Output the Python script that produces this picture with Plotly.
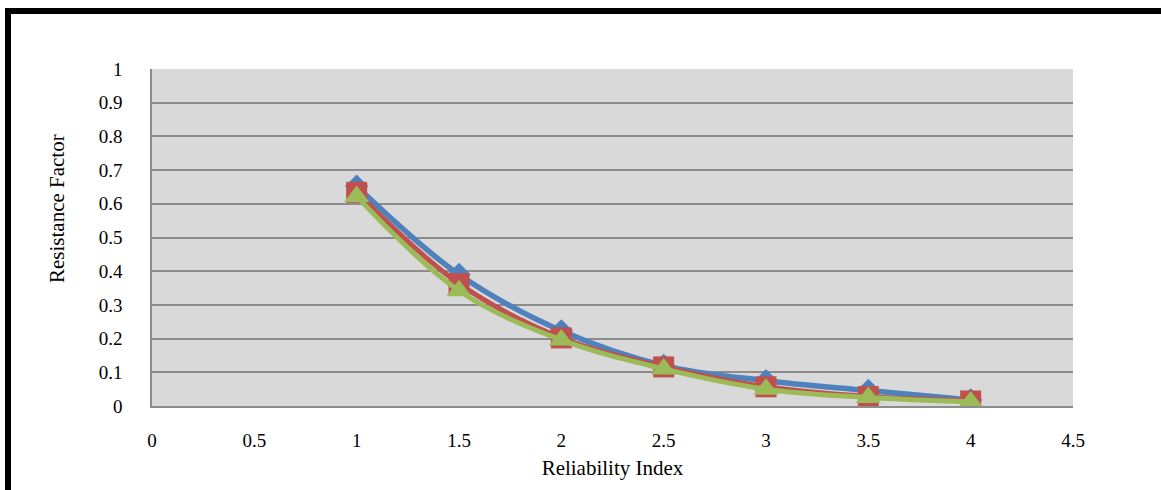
import plotly.graph_objects as go

x_vals = [1, 1.5, 2, 2.5, 3, 3.5, 4]
series_blue = [0.652, 0.39, 0.223, 0.12, 0.075, 0.046, 0.018]
series_red = [0.634, 0.363, 0.202, 0.116, 0.057, 0.028, 0.015]
series_green = [0.622, 0.342, 0.196, 0.11, 0.05, 0.025, 0.012]

x_ticks = [0, 0.5, 1, 1.5, 2, 2.5, 3, 3.5, 4, 4.5]
y_ticks = [0, 0.1, 0.2, 0.3, 0.4, 0.5, 0.6, 0.7, 0.8, 0.9, 1]

BLUE = "#4F81BD"
RED = "#C0504D"
GREEN = "#9BBB59"

fig = go.Figure()
fig.add_trace(go.Scatter(x=x_vals, y=series_blue, mode="lines+markers",
                         line=dict(color=BLUE, width=5.5, shape="spline"),
                         marker=dict(symbol="diamond", size=18, color=BLUE),
                         showlegend=False))
fig.add_trace(go.Scatter(x=x_vals, y=series_red, mode="lines+markers",
                         line=dict(color=RED, width=5, shape="spline"),
                         marker=dict(symbol="square", size=21, color=RED),
                         showlegend=False))
fig.add_trace(go.Scatter(x=x_vals, y=series_green, mode="lines+markers",
                         line=dict(color=GREEN, width=5, shape="spline"),
                         marker=dict(symbol="triangle-up", size=22, color=GREEN),
                         showlegend=False))

L, R, T, B = 152, 88, 69, 84
W, H = 1161, 490
pw = W - L - R
ph = H - T - B

def px_x(px):
    return (px - L) / pw

def px_y(py):
    return (H - B - py) / ph

fig.add_shape(type="rect", xref="paper", yref="paper",
              x0=px_x(8), x1=px_x(1200), y0=px_y(530), y1=px_y(11),
              line=dict(color="black", width=6), fillcolor="rgba(0,0,0,0)",
              layer="above")

fig.add_annotation(xref="paper", yref="paper", x=px_x(57), y=px_y(209),
                   text="Resistance Factor", textangle=-90, showarrow=False,
                   xanchor="center", yanchor="middle",
                   font=dict(size=21, color="black"))

fig.update_layout(
    width=W, height=H,
    margin=dict(l=L, r=R, t=T, b=B),
    paper_bgcolor="white",
    plot_bgcolor="#D9D9D9",
    font=dict(family="Liberation Serif, Times New Roman, serif", color="black", size=19),
    xaxis=dict(range=[0, 4.5], tickvals=x_ticks, ticktext=[str(v) for v in x_ticks],
               showgrid=False, zeroline=False,
               showline=True, linecolor="#8C8C8C", linewidth=1.5, mirror=False,
               ticks="outside", ticklen=16, tickcolor="rgba(0,0,0,0)",
               tickfont=dict(size=19),
               title=dict(text="Reliability Index", font=dict(size=21), standoff=11)),
    yaxis=dict(range=[0, 1], tickvals=y_ticks, ticktext=[("%g" % v) for v in y_ticks],
               showgrid=True, gridcolor="#8C8C8C", gridwidth=1.5, zeroline=False,
               showline=True, linecolor="#8C8C8C", linewidth=1.5,
               ticks="outside", ticklen=24, tickcolor="rgba(0,0,0,0)",
               tickfont=dict(size=19)),
)

fig.write_html("out.html", config={"displayModeBar": False},
               post_script="document.body.style.margin='0';")
